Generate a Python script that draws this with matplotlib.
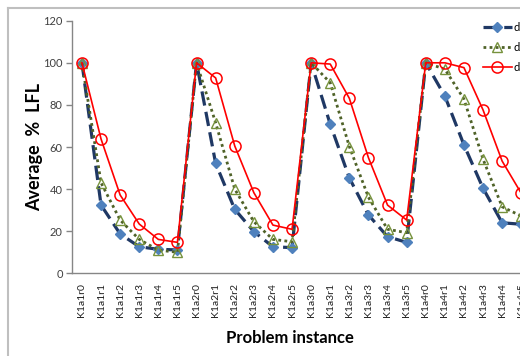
import matplotlib
matplotlib.use("Agg")
import matplotlib.pyplot as plt
from matplotlib.lines import Line2D

# ── Data ──────────────────────────────────────────────────
instances = [f"K1a{k}r{r}" for k in range(1, 5) for r in range(6)]

d1 = [100, 32.4, 18.7, 12.6, 11.4, 11.1,
      100, 52.2, 30.4, 19.8, 12.6, 12.2,
      100, 70.8, 45.3, 27.7, 17.4, 14.7,
      100, 84.2, 61.0, 40.4, 24.0, 23.3]
d2 = [100, 43.0, 25.3, 16.1, 11.0, 10.0,
      100, 71.5, 40.0, 24.5, 16.1, 15.0,
      100, 90.5, 60.2, 36.1, 20.9, 19.3,
      100, 97.0, 82.8, 54.2, 31.6, 27.2]
d3 = [100, 63.8, 37.2, 23.4, 16.1, 14.7,
      100, 92.8, 60.5, 38.3, 22.9, 20.9,
      100, 99.4, 83.1, 54.9, 32.4, 25.3,
      100, 100, 97.7, 77.6, 53.3, 38.0]
series_names = ["d1", "d2", "d3"]

plt.rcParams["font.family"] = ["Lato", "DejaVu Sans"]

W, H = 520, 356
fig = plt.figure(figsize=(W / 100, H / 100), dpi=100)
fig.patch.set_facecolor("white")

# axes extends past the right edge, like the cropped original
ax = fig.add_axes([72.4 / W, 82.7 / H, 458.4 / W, 252.6 / H])
x = list(range(len(instances)))

ax.plot(x, d1, color="#1F3864", lw=2.3, ls=(0, (4.5, 2)),
        marker="D", ms=5, mfc="#4F81BD", mec="#4F81BD", label=series_names[0])
ax.plot(x, d2, color="#4F6228", lw=2.0, ls=(0, (1, 1.2)),
        marker="^", ms=6.5, mfc="none", mec="#76923C", mew=1.0, label=series_names[1])
ax.plot(x, d3, color="#FF0000", lw=1.2, ls="-",
        marker="o", ms=8, mfc="none", mec="#FF0000", mew=1.1, label=series_names[2])

ax.set_xlim(-0.5, len(instances) - 0.5)
ax.set_ylim(0, 120)
ax.set_yticks(range(0, 121, 20))
ax.set_xticks(x)
ax.set_xticklabels(instances, rotation=90)

for s in ("top", "right"):
    ax.spines[s].set_visible(False)
for s in ("left", "bottom"):
    ax.spines[s].set_color("#868686")
    ax.spines[s].set_linewidth(1.0)

ax.tick_params(axis="y", length=4, width=1, color="#868686", pad=3,
               labelsize=8, labelcolor="#404040")
ax.tick_params(axis="x", length=0, pad=7, labelsize=7.5, labelcolor="#202020")

ax.set_ylabel("Average  %  LFL", fontsize=13, fontweight="bold", labelpad=0)
fig.text(290 / W, 1 - 338 / H, "Problem instance", fontsize=12,
         fontweight="bold", ha="center", va="center")

fig.legend(loc="center left", bbox_to_anchor=(483 / W, 1 - 47.3 / H),
           frameon=False, fontsize=8, handlelength=2.6, handletextpad=0.1,
           labelspacing=0.8, borderpad=0, borderaxespad=0)

# chart frame (left and top edges visible)
fig.add_artist(Line2D([8 / W, 8 / W], [0, 1 - 7.5 / H], color="#bfbfbf",
                      lw=1.5, transform=fig.transFigure))
fig.add_artist(Line2D([8 / W, 1], [1 - 7.5 / H, 1 - 7.5 / H], color="#bfbfbf",
                      lw=1.5, transform=fig.transFigure))

fig.savefig("out.png", dpi=100)
